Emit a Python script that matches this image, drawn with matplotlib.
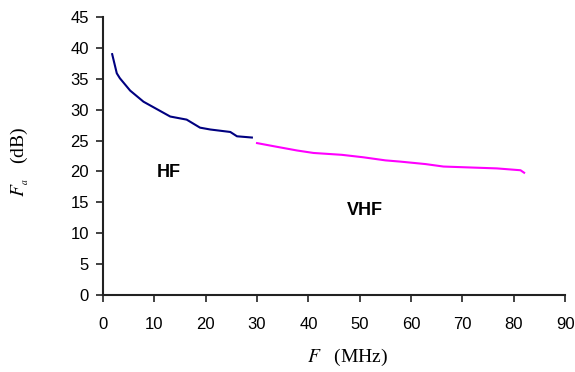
import matplotlib
matplotlib.use("Agg")
import matplotlib.pyplot as plt

plt.rcParams["mathtext.fontset"] = "stix"

# HF band (blue) and VHF band (magenta)
hf_freq = [1.8, 2.7, 3.3, 5.3, 7.9, 10.5, 13.1, 16.3, 18.9, 20.9, 24.8, 26.1, 29.0]
hf_fa = [39.0, 35.9, 35.1, 33.1, 31.3, 30.1, 28.9, 28.4, 27.1, 26.8, 26.4, 25.7, 25.5]

vhf_freq = [30.0, 33.2, 37.8, 41.0, 46.5, 50.7, 55.0, 57.9, 62.8, 66.3, 76.7, 81.3, 82.0]
vhf_fa = [24.6, 24.1, 23.4, 23.0, 22.7, 22.3, 21.8, 21.6, 21.2, 20.8, 20.5, 20.2, 19.8]

xticks = list(range(0, 91, 10))
yticks = list(range(0, 46, 5))

fig = plt.figure(figsize=(5.75, 3.72), dpi=100)
ax = fig.add_axes([0.179, 0.207, 0.804, 0.747])

ax.plot(hf_freq, hf_fa, color="#000080", lw=1.5)
ax.plot(vhf_freq, vhf_fa, color="#ff00ff", lw=1.5)

ax.set_xlim(0, 90)
ax.set_ylim(0, 45)
ax.set_xticks(xticks)
ax.set_yticks(yticks)

for s in ["top", "right"]:
    ax.spines[s].set_visible(False)
for s in ["left", "bottom"]:
    ax.spines[s].set_linewidth(1.5)
    ax.spines[s].set_color("#222222")

ax.tick_params(direction="out", length=5, width=1.2, color="#222222",
               labelsize=12, labelcolor="black")
ax.tick_params(axis="x", pad=11)
ax.tick_params(axis="y", pad=5)
for lab in ax.get_xticklabels() + ax.get_yticklabels():
    lab.set_family("Liberation Sans")

ax.text(10.5, 19.1, "HF", fontsize=13, fontweight="bold", family="Liberation Sans")
ax.text(47.5, 12.9, "VHF", fontsize=13, fontweight="bold", family="Liberation Sans")

ax.set_xlabel(r"$F$   (MHz)", family="Liberation Serif", fontsize=14)
ax.xaxis.set_label_coords(0.528, -0.185)
ax.set_ylabel(r"$F_{_a}$   (dB)", family="Liberation Serif", fontsize=14)
ax.yaxis.set_label_coords(-0.155, 0.478)

fig.savefig("out.png", dpi=100)
